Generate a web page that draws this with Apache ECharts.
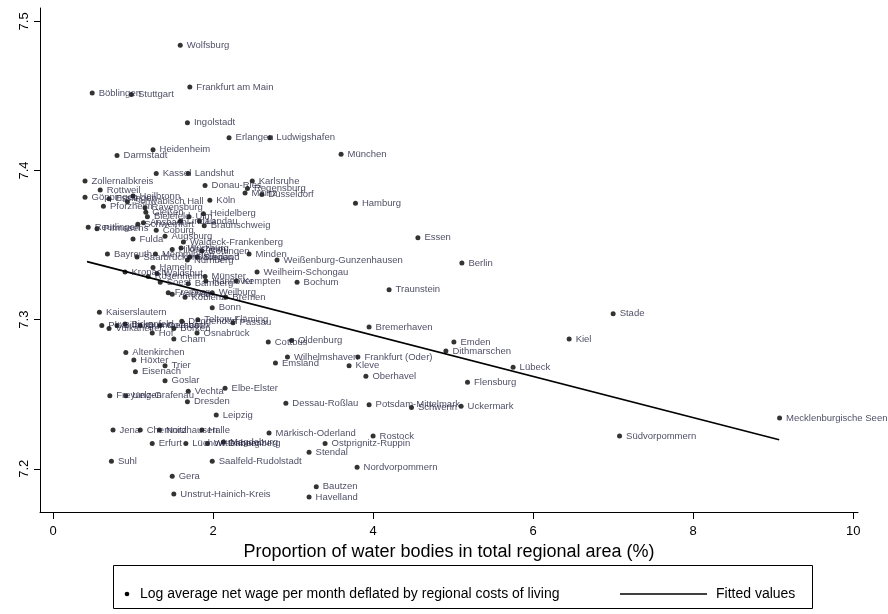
<!DOCTYPE html>
<html>
<head>
<meta charset="utf-8">
<script src="https://cdn.jsdelivr.net/npm/echarts@6/dist/echarts.min.js"></script>
<style>html,body{margin:0;padding:0;background:#fff}#c{width:888px;height:614px}</style>
</head>
<body>
<div id="c"></div>
<script>
const regionNames = ["Wolfsburg","Frankfurt am Main","Böblingen","Stuttgart","Ingolstadt","Erlangen","Ludwigshafen","Heidenheim","Darmstadt","München","Kassel","Landshut","Zollernalbkreis","Karlsruhe","Donau-Ries","Rottweil","Regensburg","Mainz","Düsseldorf","Köln","Göppingen","Esslingen","Heilbronn","Pforzheim","Schwäbisch Hall","Ravensburg","Gießen","Bielefeld","Ulm","Heidelberg","Reutlingen","Pirmasens","Schweinfurt","Ansbach","Lindau","Landau","Braunschweig","Coburg","Augsburg","Fulda","Waldeck-Frankenberg","Würzburg","Hildesheim","Göttingen","Bayreuth","Memmingen","Saarbrücken","Sauerland","Siegen","Nürnberg","Minden","Weißenburg-Gunzenhausen","Hamburg","Essen","Berlin","Weilheim-Schongau","Hameln","Kronach","Waldshut","Rosenheim","Münster","Hannover","Kempten","Soest","Bamberg","Bochum","Traunstein","Freiburg","Aachen","Koblenz","Weilburg","Bremen","Bonn","Kaiserslautern","Stade","Teltow-Fläming","Deggendorf","Passau","Plön","Vulkaneifel","Bitburg","Birkenfeld","Gummersbach","Cochem","Hof","Borken","Cham","Osnabrück","Bremerhaven","Kiel","Emden","Dithmarschen","Cottbus","Oldenburg","Altenkirchen","Wilhelmshaven","Frankfurt (Oder)","Höxter","Emsland","Trier","Kleve","Lübeck","Eisenach","Oberhavel","Goslar","Flensburg","Elbe-Elster","Vechta","Freyung-Grafenau","Uelzen","Dresden","Dessau-Roßlau","Potsdam-Mittelmark","Schwerin","Uckermark","Leipzig","Mecklenburgische Seenplatte","Jena","Chemnitz","Nordhausen","Halle","Märkisch-Oderland","Rostock","Südvorpommern","Magdeburg","Erfurt","Lüchow-Dannenberg","Wittenberg","Ostprignitz-Ruppin","Stendal","Saalfeld-Rudolstadt","Suhl","Nordvorpommern","Gera","Bautzen","Unstrut-Hainich-Kreis","Havelland"];
const waterShare = [1.59,1.71,0.49,0.98,1.68,2.20,2.71,1.25,0.80,3.60,1.29,1.69,0.40,2.49,1.90,0.59,2.43,2.40,2.61,1.96,0.40,0.70,1.00,0.63,0.93,1.15,1.16,1.18,1.70,1.88,0.44,0.55,1.06,1.13,1.59,1.83,1.89,1.29,1.40,1.00,1.63,1.60,1.49,1.86,0.68,1.28,1.05,1.71,1.80,1.68,2.45,2.80,3.78,4.56,5.11,2.55,1.25,0.90,1.30,1.19,1.90,1.91,2.29,1.34,1.69,3.05,4.20,1.44,1.49,1.65,1.99,2.16,1.99,0.58,7.00,1.81,1.61,2.25,0.61,0.70,0.80,0.90,1.09,1.34,1.24,1.51,1.51,1.80,3.95,6.45,5.01,4.91,2.69,2.98,0.91,2.93,3.81,1.01,2.78,1.40,3.70,5.75,1.03,3.91,1.40,5.18,2.15,1.69,0.71,0.91,1.68,2.91,3.95,4.48,5.10,2.04,9.08,0.75,1.09,1.33,1.86,2.70,4.00,7.08,2.13,1.24,1.66,1.93,3.40,3.20,1.99,0.73,3.80,1.49,3.29,1.51,3.20];
const logWage = [7.484,7.456,7.452,7.451,7.432,7.422,7.422,7.414,7.410,7.411,7.398,7.398,7.393,7.393,7.390,7.387,7.388,7.385,7.384,7.380,7.382,7.381,7.383,7.376,7.379,7.375,7.372,7.369,7.369,7.371,7.362,7.361,7.364,7.365,7.366,7.366,7.363,7.360,7.356,7.354,7.352,7.348,7.347,7.346,7.344,7.344,7.342,7.342,7.342,7.340,7.344,7.340,7.378,7.355,7.338,7.332,7.335,7.332,7.331,7.329,7.329,7.326,7.326,7.325,7.324,7.325,7.320,7.318,7.317,7.315,7.318,7.315,7.308,7.305,7.304,7.300,7.299,7.298,7.296,7.294,7.296,7.297,7.296,7.296,7.291,7.294,7.287,7.291,7.295,7.287,7.285,7.279,7.285,7.286,7.278,7.275,7.275,7.273,7.271,7.269,7.269,7.268,7.265,7.262,7.259,7.258,7.254,7.252,7.249,7.249,7.245,7.244,7.243,7.241,7.242,7.236,7.234,7.226,7.226,7.226,7.226,7.224,7.222,7.222,7.218,7.217,7.217,7.217,7.217,7.211,7.205,7.205,7.201,7.195,7.188,7.183,7.181];
const fittedX = [0.425, 9.075];
const fittedY = [7.3389, 7.2195];
const xTicks = [0, 2, 4, 6, 8, 10];
const yTicks = [7.2, 7.3, 7.4, 7.5];
const xTitle = "Proportion of water bodies in total regional area (%)";
const legendScatter = "Log average net wage per month deflated by regional costs of living";
const legendLine = "Fitted values";

const FONT = "'Liberation Sans', Arial, sans-serif";
const chart = echarts.init(document.getElementById('c'), null, {renderer: 'canvas'});
const scatterData = regionNames.map((n, i) => [waterShare[i], logWage[i], n]);
const lineData = fittedX.map((x, i) => [x, fittedY[i]]);

chart.setOption({
  animation: false,
  backgroundColor: '#fff',
  grid: {left: 40, top: 8, width: 818, height: 504, containLabel: false},
  xAxis: {
    type: 'value', min: -0.1625, max: 10.06,
    splitLine: {show: false},
    axisLine: {show: true, onZero: false, lineStyle: {color: '#000', width: 1}},
    axisTick: {show: true, customValues: xTicks, length: 7, lineStyle: {color: '#000'}},
    axisLabel: {customValues: xTicks, color: '#000', fontSize: 13, fontFamily: FONT, margin: 13},
    name: xTitle, nameLocation: 'middle', nameGap: 31,
    nameTextStyle: {color: '#000', fontSize: 18, fontFamily: FONT}
  },
  yAxis: {
    type: 'value', min: 7.171, max: 7.509,
    splitLine: {show: false},
    axisLine: {show: true, onZero: false, lineStyle: {color: '#000', width: 1}},
    axisTick: {show: true, customValues: yTicks, length: 6, lineStyle: {color: '#000'}},
    axisLabel: {customValues: yTicks, color: '#000', fontSize: 13, fontFamily: FONT, rotate: 90, margin: 9,
      formatter: v => v.toFixed(1)}
  },
  series: [
    {
      type: 'scatter', name: legendScatter, data: scatterData, symbolSize: 5,
      itemStyle: {color: '#000'},
      label: {show: true, position: 'right', distance: 4, formatter: p => p.data[2],
        color: '#1c1c3a', fontSize: 9.5, fontFamily: FONT},
      z: 3
    },
    {
      type: 'line', name: legendLine, data: lineData, symbol: 'none',
      lineStyle: {color: '#000', width: 1.6}, z: 2
    }
  ],
  graphic: [
    {type: 'rect', shape: {x: 113.5, y: 565.5, width: 699, height: 43}, style: {fill: 'none', stroke: '#000', lineWidth: 1}},
    {type: 'circle', shape: {cx: 127, cy: 594, r: 2.3}, style: {fill: '#000'}},
    {type: 'text', x: 140, y: 594, style: {text: legendScatter, fontSize: 14, fontFamily: FONT, fill: '#000', verticalAlign: 'middle'}},
    {type: 'line', shape: {x1: 620, y1: 594, x2: 707, y2: 594}, style: {stroke: '#000', lineWidth: 1.4}},
    {type: 'text', x: 716, y: 594, style: {text: legendLine, fontSize: 14, fontFamily: FONT, fill: '#000', verticalAlign: 'middle'}}
  ]
});
</script>
</body>
</html>
